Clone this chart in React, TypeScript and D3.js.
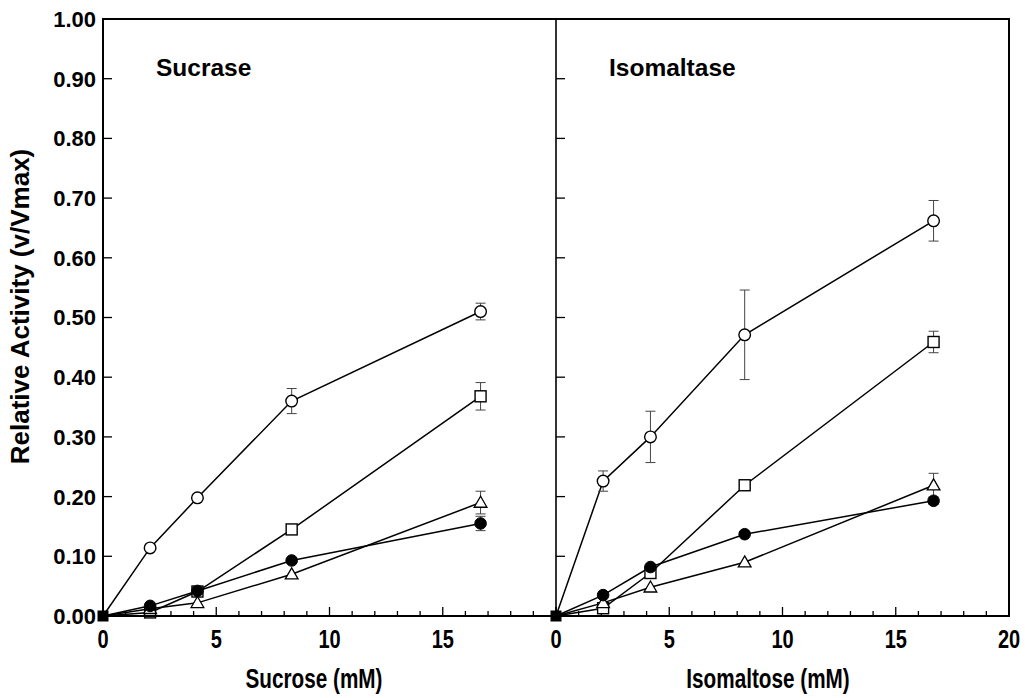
import React from "react";
import * as d3 from "d3";

// substrate concentrations (mM)
const conc = [0, 2.08, 4.17, 8.33, 16.67];

// Sucrase panel
const sucOpenCircle = [0, 0.114, 0.198, 0.36, 0.51];
const sucOpenCircleErr = [0, 0, 0, 0.021, 0.014];
const sucOpenSquare = [0, 0.006, 0.041, 0.145, 0.368];
const sucOpenSquareErr = [0, 0, 0, 0, 0.023];
const sucTriangle = [0, 0.012, 0.022, 0.07, 0.19];
const sucTriangleErr = [0, 0, 0, 0, 0.019];
const sucFilled = [0, 0.017, 0.042, 0.093, 0.155];
const sucFilledErr = [0, 0, 0, 0, 0.012];

// Isomaltase panel
const isoOpenCircle = [0, 0.226, 0.3, 0.471, 0.662];
const isoOpenCircleErr = [0, 0.017, 0.043, 0.075, 0.034];
const isoOpenSquare = [0, 0.013, 0.072, 0.219, 0.459];
const isoOpenSquareErr = [0, 0, 0, 0, 0.018];
const isoTriangle = [0, 0.022, 0.048, 0.09, 0.219];
const isoTriangleErr = [0, 0, 0, 0, 0.02];
const isoFilled = [0, 0.035, 0.082, 0.137, 0.193];
const isoFilledErr = [0, 0, 0, 0, 0.006];

const yTicks = [0, 0.1, 0.2, 0.3, 0.4, 0.5, 0.6, 0.7, 0.8, 0.9, 1.0];
const leftXLabels = [0, 5, 10, 15];
const rightXLabels = [0, 5, 10, 15, 20];
const minorXTicks = d3.range(0, 21);

const W = 1025;
const H = 698;
const top = 19;
const bottom = 616;
const left1 = 103;
const panelW = 453;
const left2 = left1 + panelW;

const boldFont = "'Liberation Sans', Arial, sans-serif";

const y = d3.scaleLinear().domain([0, 1]).range([bottom, top]);

type Series = { v: number[]; e: number[]; shape: string };

const Marker = ({ shape, cx, cy }: { shape: string; cx: number; cy: number }) => {
  if (shape === "circle")
    return <circle cx={cx} cy={cy} r={5.8} fill="white" stroke="black" strokeWidth={1.4} />;
  if (shape === "filled")
    return <circle cx={cx} cy={cy} r={5.8} fill="black" stroke="black" strokeWidth={1} />;
  if (shape === "square")
    return <rect x={cx - 5.5} y={cy - 5.5} width={11} height={11} fill="white" stroke="black" strokeWidth={1.4} />;
  const s = d3.symbol().type(d3.symbolTriangle).size(70)();
  return <path d={s || ""} transform={`translate(${cx},${cy + 1})`} fill="white" stroke="black" strokeWidth={1.3} />;
};

// condensed bold text (no narrow font installed, so squeeze horizontally)
const NarrowText = ({
  x,
  y: ty,
  size,
  sx = 0.8,
  children,
}: {
  x: number;
  y: number;
  size: number;
  sx?: number;
  children: React.ReactNode;
}) => (
  <text
    transform={`translate(${x},${ty}) scale(${sx},1)`}
    textAnchor="middle"
    fontFamily={boldFont}
    fontWeight="bold"
    fontSize={size}
  >
    {children}
  </text>
);

const Panel = ({ x0, series, labels, title }: { x0: number; series: Series[]; labels: number[]; title: string }) => {
  const x = d3.scaleLinear().domain([0, 20]).range([x0, x0 + panelW]);
  const line = d3
    .line<number>()
    .x((_, i) => x(conc[i]))
    .y((d) => y(d));
  return (
    <g>
      {/* y ticks pointing inward */}
      {yTicks.map((t) => (
        <line key={t} x1={x0} x2={x0 + 9} y1={y(t)} y2={y(t)} stroke="black" strokeWidth={1.3} />
      ))}
      {/* x ticks pointing up */}
      {minorXTicks.map((t) => (
        <line
          key={t}
          x1={x(t)}
          x2={x(t)}
          y1={bottom}
          y2={bottom - (t % 5 === 0 ? 9 : 5)}
          stroke="black"
          strokeWidth={1.3}
        />
      ))}
      {labels.map((t) => (
        <NarrowText key={t} x={x(t)} y={648} size={25}>
          {t}
        </NarrowText>
      ))}
      <text x={x0 + 53} y={76} fontFamily={boldFont} fontWeight="bold" fontSize={24.5}>
        {title}
      </text>
      {series.map((s, si) => (
        <path key={"l" + si} d={line(s.v) || ""} fill="none" stroke="black" strokeWidth={1.5} />
      ))}
      {series.map((s, si) =>
        s.v.map((v, i) =>
          s.e[i] > 0 ? (
            <g key={"e" + si + "-" + i} stroke="#444" strokeWidth={1}>
              <line x1={x(conc[i])} x2={x(conc[i])} y1={y(v - s.e[i])} y2={y(v + s.e[i])} />
              <line x1={x(conc[i]) - 5} x2={x(conc[i]) + 5} y1={y(v - s.e[i])} y2={y(v - s.e[i])} />
              <line x1={x(conc[i]) - 5} x2={x(conc[i]) + 5} y1={y(v + s.e[i])} y2={y(v + s.e[i])} />
            </g>
          ) : null
        )
      )}
      {series.map((s, si) =>
        s.v.map((v, i) =>
          i > 0 ? <Marker key={"m" + si + "-" + i} shape={s.shape} cx={x(conc[i])} cy={y(v)} /> : null
        )
      )}
      {/* origin point drawn as a filled square */}
      <rect x={x(0) - 5.5} y={y(0) - 5.5} width={11} height={11} fill="black" />
    </g>
  );
};

export default function App() {
  const sucSeries: Series[] = [
    { v: sucOpenCircle, e: sucOpenCircleErr, shape: "circle" },
    { v: sucOpenSquare, e: sucOpenSquareErr, shape: "square" },
    { v: sucTriangle, e: sucTriangleErr, shape: "triangle" },
    { v: sucFilled, e: sucFilledErr, shape: "filled" },
  ];
  const isoSeries: Series[] = [
    { v: isoOpenCircle, e: isoOpenCircleErr, shape: "circle" },
    { v: isoOpenSquare, e: isoOpenSquareErr, shape: "square" },
    { v: isoTriangle, e: isoTriangleErr, shape: "triangle" },
    { v: isoFilled, e: isoFilledErr, shape: "filled" },
  ];

  return (
    <svg width={W} height={H} style={{ position: "absolute", left: 0, top: 0, background: "white" }}>
      <rect width={W} height={H} fill="white" />
      <Panel x0={left1} series={sucSeries} labels={leftXLabels} title="Sucrase" />
      <Panel x0={left2} series={isoSeries} labels={rightXLabels} title="Isomaltase" />

      {/* frame */}
      <rect x={left1} y={top} width={panelW * 2} height={bottom - top} fill="none" stroke="black" strokeWidth={2} />
      <line x1={left2} x2={left2} y1={top} y2={bottom} stroke="black" strokeWidth={1.6} />

      {yTicks.map((t) => (
        <text
          key={t}
          x={96}
          y={y(t)}
          dy="0.36em"
          textAnchor="end"
          fontFamily={boldFont}
          fontWeight="bold"
          fontSize={22}
        >
          {t.toFixed(2)}
        </text>
      ))}

      <text
        transform={`translate(29, ${(147 + 466) / 2}) rotate(-90)`}
        textAnchor="middle"
        fontFamily={boldFont}
        fontWeight="bold"
        fontSize={26}
      >
        Relative Activity (v/Vmax)
      </text>

      <NarrowText x={314} y={688} size={28} sx={0.74}>
        Sucrose (mM)
      </NarrowText>
      <NarrowText x={768} y={688} size={28} sx={0.74}>
        Isomaltose (mM)
      </NarrowText>
    </svg>
  );
}
